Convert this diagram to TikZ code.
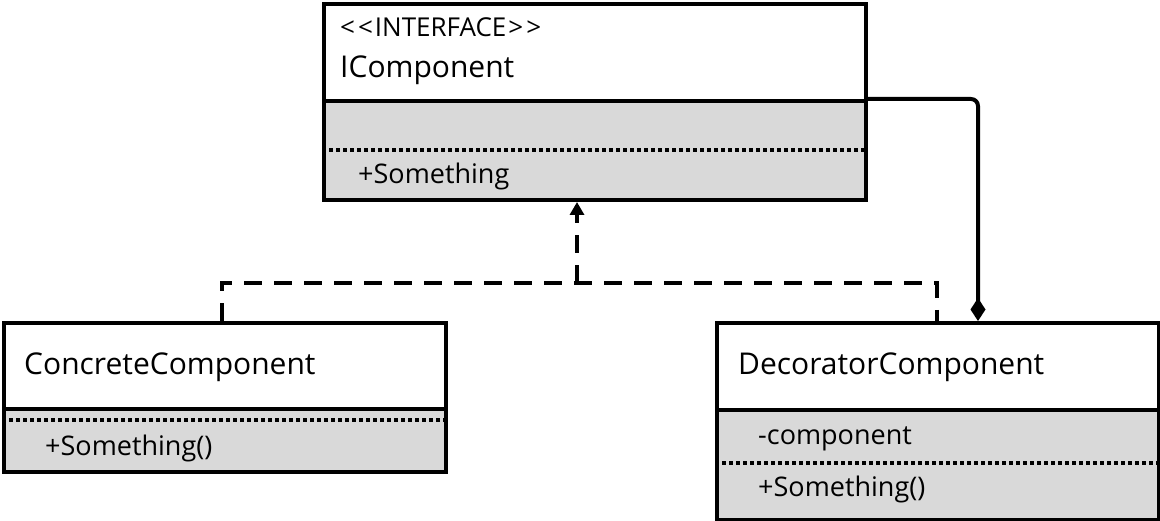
\documentclass[tikz,border=0pt]{standalone}
\usepackage{fontspec}
\setmainfont{Open Sans}
\usetikzlibrary{arrows.meta,positioning}

\definecolor{bodygray}{RGB}{217,217,217}

\begin{document}
\begin{tikzpicture}[x=1pt, y=-1pt,
  namebox/.style={draw, line width=4pt, fill=white, anchor=north west,
                  minimum width=#1, inner sep=0pt},
  bodybox/.style={namebox=#1, fill=bodygray},
  sep/.style={line width=3.5pt, dash pattern=on 3.5pt off 3.5pt},
  cls/.style={anchor=base west, inner sep=0pt, font=\fontsize{30}{35}\selectfont},
  stereo/.style={cls, font=\fontsize{26}{30}\selectfont},
  member/.style={cls, font=\fontsize{27}{31}\selectfont},
  realize/.style={line width=4pt, dash pattern=on 18pt off 12pt},
  comp/.style={line width=4pt, rounded corners=7pt,
               -{Diamond[length=23pt,width=15pt]}}
]
\useasboundingbox (0,0) rectangle (1160,521);

% Interface
\node[namebox=542pt, minimum height=97pt] (iname) at (322,2) {};
\node[bodybox=542pt, minimum height=99pt] (ibody) at (322,99) {};
\draw[sep] (ibody.west |- 0,150) -- (ibody.east |- 0,150);
\node[stereo] (istereo) at (340,37)
  {<\kern3pt<\kern2pt INTERFACE\kern2pt>\kern3pt>};
\node[cls] (ititle) at (340,78) {IComponent};
\node[member] (isome) at (358,184) {+Something};

% Concrete class
\node[namebox=442pt, minimum height=86pt] (cname) at (2,321) {};
\node[bodybox=442pt, minimum height=63pt] (cbody) at (2,407) {};
\draw[sep] (cbody.west |- 0,420) -- (cbody.east |- 0,420);
\node[cls] (ctitle) at (24,374) {ConcreteComponent};
\node[member] (csome) at (45,455) {+Something()};

% Decorator class
\node[namebox=442pt, minimum height=87pt] (dname) at (715,321) {};
\node[bodybox=442pt, minimum height=110pt] (dbody) at (715,408) {};
\draw[sep] (dbody.west |- 0,463) -- (dbody.east |- 0,463);
\node[cls] (dtitle) at (738,374) {DecoratorComponent};
\node[member] (dfield) at (758,444) {-component};
\node[member] (dsome) at (758,496) {+Something()};

% Realization
\coordinate (merge) at (577,283);
\draw[realize] (cname.north -| 222,0) |- (merge) -| (dname.north -| 937,0);
\draw[realize, -{Triangle[length=13pt,width=14pt]}] (merge) -- (merge |- ibody.south);

% Composition
\coordinate (elbow) at (978,99);
\draw[comp] (elbow -| iname.east) -- (elbow) -- (elbow |- dname.north);

\end{tikzpicture}
\end{document}
